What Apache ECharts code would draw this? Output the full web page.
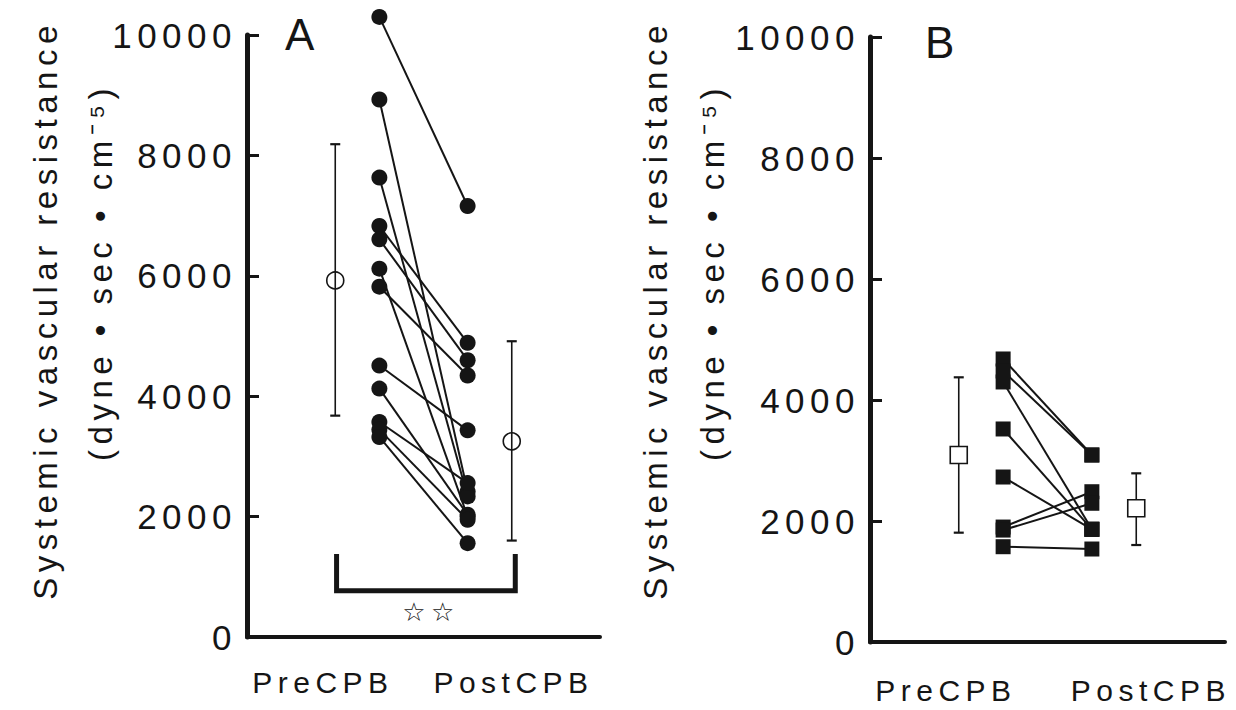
<!DOCTYPE html>
<html>
<head>
<meta charset="utf-8">
<script src="https://cdn.jsdelivr.net/npm/echarts@6/dist/echarts.min.js"></script>
<style>
  html, body { margin: 0; padding: 0; background: #fff; }
  #chart { width: 1236px; height: 710px; }
  #chart text { letter-spacing: 5.5px; }
</style>
</head>
<body>
<div id="chart"></div>
<script>
// ---------------- DATA ----------------
const categories = ['PreCPB', 'PostCPB'];
const yMin = 0, yMax = 10000, yStep = 2000;
const yTitle = 'Systemic vascular resistance';
const yUnit = '(dyne • sec • cm⁻⁵)';
const panelLabels = ['A', 'B'];
const sigMark = '☆☆';

// Panel A: individual patients (filled circles)
const preA  = [10300, 8928, 7632, 6827, 6606, 6118, 5819, 4509, 4126, 3572, 3444, 3323];
const postA = [ 7160, 2418, 2335, 4887, 4598, 2000, 4343, 3433, 2030, 2557, 1947, 1559];
// Panel A: mean, low, high
const meanPreA  = [5923, 3677, 8186];
const meanPostA = [3250, 1602, 4913];

// Panel B: individual patients (filled squares)
const preB  = [4678, 4479, 4298, 3521, 2727, 1900, 1850, 1575];
const postB = [3091, 3091, 1863, 1863, 1863, 2484, 2293, 1537];
// Panel B: mean, low, high
const meanPreB  = [3091, 1807, 4375];
const meanPostB = [2210, 1603, 2788];

// Significance bracket in panel A (value levels: leg top, bar)
const bracketA = [1380, 770];

// ---------------- LAYOUT ----------------
const ink = '#151515';
const FONT = '"Liberation Sans", Arial, Helvetica, sans-serif';
const POS = { meanPre: 2, pre: 3, post: 5, meanPost: 6 };
const xLabelPos = [[1.72, 6.04], [1.71, 6.33]];
const bracketX = [2.03, 6.08];

const chart = echarts.init(document.getElementById('chart'), null, { renderer: 'svg', width: 1236, height: 710 });

function pairSeries(pre, post, gi, symbol) {
  return pre.map((v, i) => ({
    type: 'line',
    xAxisIndex: gi, yAxisIndex: gi,
    clip: false,
    symbol: symbol,
    symbolSize: symbol === 'rect' ? 15 : 16,
    data: [[POS.pre, v], [POS.post, post[i]]],
    lineStyle: { color: ink, width: 2 },
    itemStyle: { color: ink, borderWidth: 0 },
    z: 3,
    silent: true
  }));
}

function errSeries(gi, items, shape) {
  return {
    type: 'custom',
    xAxisIndex: gi, yAxisIndex: gi,
    data: items,
    z: 4,
    silent: true,
    renderItem: function (params, api) {
      const x = api.value(0), m = api.value(1), lo = api.value(2), hi = api.value(3);
      const pT = api.coord([x, hi]), pB = api.coord([x, lo]), pM = api.coord([x, m]);
      const cap = 5;
      const children = [
        { type: 'line', shape: { x1: pT[0], y1: pT[1], x2: pB[0], y2: pB[1] }, style: { stroke: ink, lineWidth: 1.6 } },
        { type: 'line', shape: { x1: pT[0] - cap, y1: pT[1], x2: pT[0] + cap, y2: pT[1] }, style: { stroke: ink, lineWidth: 2.2 } },
        { type: 'line', shape: { x1: pB[0] - cap, y1: pB[1], x2: pB[0] + cap, y2: pB[1] }, style: { stroke: ink, lineWidth: 2.2 } }
      ];
      if (shape === 'circle') {
        children.push({ type: 'circle', shape: { cx: pM[0], cy: pM[1], r: 8.5 }, style: { fill: 'none', stroke: ink, lineWidth: 1.6 } });
      } else {
        children.push({ type: 'rect', shape: { x: pM[0] - 8.5, y: pM[1] - 8.5, width: 17, height: 17 }, style: { fill: '#fff', stroke: ink, lineWidth: 1.6 } });
      }
      return { type: 'group', children: children };
    }
  };
}

const axisFont = { fontFamily: FONT, color: ink };

const option = {
  backgroundColor: '#fff',
  animation: false,
  grid: [
    { left: 247, top: 35, width: 353, height: 602 },
    { left: 870, top: 37, width: 355, height: 605 }
  ],
  xAxis: [0, 1].map(i => ({
    gridIndex: i, type: 'value', min: 0, max: 8,
    axisLine: { lineStyle: { color: ink, width: 4 } },
    axisTick: { show: false },
    splitLine: { show: false },
    axisLabel: Object.assign({
      customValues: xLabelPos[i],
      formatter: (v) => categories[xLabelPos[i].indexOf(v)] || '',
      margin: i === 0 ? 30 : 33,
      fontSize: 30
    }, axisFont)
  })),
  yAxis: [0, 1].map(i => ({
    gridIndex: i, type: 'value', min: yMin, max: yMax, interval: yStep,
    axisLine: { show: true, lineStyle: { color: ink, width: 5 } },
    axisTick: { show: true, inside: true, length: 12, lineStyle: { color: ink, width: 3 } },
    splitLine: { show: false },
    axisLabel: Object.assign({ margin: 10, fontSize: 35, formatter: (v) => String(v) }, axisFont)
  })),
  series: [
    ...pairSeries(preA, postA, 0, 'circle'),
    ...pairSeries(preB, postB, 1, 'rect'),
    errSeries(0, [[POS.meanPre].concat(meanPreA), [POS.meanPost].concat(meanPostA)], 'circle'),
    errSeries(1, [[POS.meanPre].concat(meanPreB), [POS.meanPost].concat(meanPostB)], 'rect'),
    {
      type: 'line', xAxisIndex: 0, yAxisIndex: 0, symbol: 'none', silent: true,
      data: [[bracketX[0], bracketA[0]], [bracketX[0], bracketA[1]], [bracketX[1], bracketA[1]], [bracketX[1], bracketA[0]]],
      lineStyle: { color: ink, width: 5, join: 'miter' }
    }
  ],
  graphic: [
    { type: 'text', left: 285, top: 12, style: { text: panelLabels[0], font: '44px ' + FONT, fill: ink } },
    { type: 'text', left: 925, top: 20, style: { text: panelLabels[1], font: '44px ' + FONT, fill: ink } },
    { type: 'text', x: 45, y: 310, rotation: Math.PI / 2,
      style: { text: yTitle, font: '33px ' + FONT, fill: ink, align: 'center', verticalAlign: 'middle' } },
    { type: 'text', x: 100, y: 272, rotation: Math.PI / 2,
      style: { text: yUnit, font: '33px ' + FONT, fill: ink, align: 'center', verticalAlign: 'middle' } },
    { type: 'text', x: 655, y: 310, rotation: Math.PI / 2,
      style: { text: yTitle, font: '33px ' + FONT, fill: ink, align: 'center', verticalAlign: 'middle' } },
    { type: 'text', x: 712, y: 272, rotation: Math.PI / 2,
      style: { text: yUnit, font: '33px ' + FONT, fill: ink, align: 'center', verticalAlign: 'middle' } },
    { type: 'text', x: 431, y: 612, style: { text: sigMark, font: '26px "DejaVu Sans", sans-serif', fill: ink, align: 'center', verticalAlign: 'middle' } }
  ]
};
chart.setOption(option);
</script>
</body>
</html>
